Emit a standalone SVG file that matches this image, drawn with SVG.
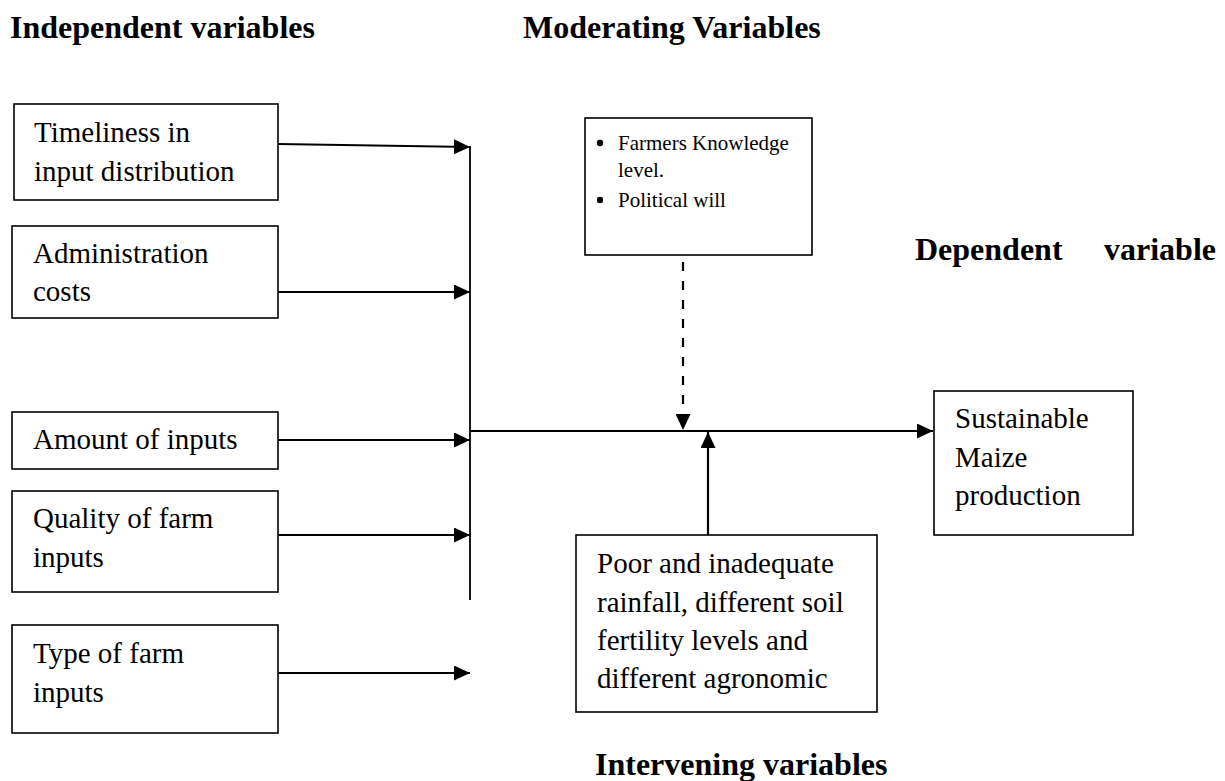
<svg xmlns="http://www.w3.org/2000/svg" width="1225" height="781" viewBox="0 0 1225 781">
<defs>
<marker id="ah" markerUnits="userSpaceOnUse" markerWidth="16" markerHeight="15" refX="16" refY="7.5" orient="auto" viewBox="0 0 16 15">
<path d="M0,0 L16,7.5 L0,15 z" fill="#000"/>
</marker>
<style>
.box{fill:#fff;stroke:#000;stroke-width:1.6}
.t{font-family:"Liberation Serif","Times New Roman",serif;font-size:29px;fill:#000}
.s{font-family:"Liberation Serif","Times New Roman",serif;font-size:21px;fill:#000}
.h{font-family:"Liberation Serif","Times New Roman",serif;font-size:32px;font-weight:bold;fill:#000}
.c{stroke:#000;stroke-width:2.2;fill:none}
.c2{stroke:#000;stroke-width:1.8;fill:none}
</style>
</defs>
<rect width="1225" height="781" fill="#fff"/>
<g id="headings">
<text class="h" x="10" y="38">Independent variables</text>
<text class="h" x="523" y="38">Moderating Variables</text>
<text class="h" x="915" y="260">Dependent</text>
<text class="h" x="1104" y="260">variable</text>
<text class="h" x="595" y="775">Intervening variables</text>
</g>
<g id="connectors">
<line class="c2" x1="470" y1="146" x2="470" y2="600"/>
<line class="c" x1="278" y1="144" x2="470" y2="147" marker-end="url(#ah)"/>
<line class="c" x1="278" y1="292" x2="470" y2="292" marker-end="url(#ah)"/>
<line class="c" x1="278" y1="440" x2="470" y2="440" marker-end="url(#ah)"/>
<line class="c" x1="278" y1="535" x2="470" y2="535" marker-end="url(#ah)"/>
<line class="c" x1="278" y1="673" x2="470" y2="673" marker-end="url(#ah)"/>
<line class="c" x1="470" y1="431" x2="933" y2="431" marker-end="url(#ah)"/>
<line class="c" x1="683" y1="262" x2="683" y2="430" stroke-dasharray="9,10" marker-end="url(#ah)"/>
<line class="c" x1="708" y1="535" x2="708" y2="432" marker-end="url(#ah)"/>
</g>
<g id="timeliness">
<rect class="box" x="14" y="104" width="264" height="96"/>
<text class="t" x="34" y="142">Timeliness in</text>
<text class="t" x="34" y="181">input distribution</text>
</g>
<g id="administration">
<rect class="box" x="12" y="226" width="266" height="92"/>
<text class="t" x="33" y="263">Administration</text>
<text class="t" x="33" y="301">costs</text>
</g>
<g id="amount">
<rect class="box" x="12" y="412" width="266" height="57"/>
<text class="t" x="33" y="449">Amount of inputs</text>
</g>
<g id="quality">
<rect class="box" x="12" y="491" width="266" height="101"/>
<text class="t" x="33" y="528">Quality of farm</text>
<text class="t" x="33" y="567">inputs</text>
</g>
<g id="type">
<rect class="box" x="12" y="625" width="266" height="108"/>
<text class="t" x="33" y="663">Type of farm</text>
<text class="t" x="33" y="702">inputs</text>
</g>
<g id="moderating">
<rect class="box" x="585" y="118" width="227" height="137"/>
<circle cx="600" cy="143" r="3.2" fill="#000"/>
<text class="s" x="618" y="150">Farmers Knowledge</text>
<text class="s" x="618" y="177">level.</text>
<circle cx="600" cy="200" r="3.2" fill="#000"/>
<text class="s" x="618" y="207">Political will</text>
</g>
<g id="dependent">
<rect class="box" x="934" y="391" width="199" height="144"/>
<text class="t" x="955" y="428">Sustainable</text>
<text class="t" x="955" y="467">Maize</text>
<text class="t" x="955" y="505">production</text>
</g>
<g id="intervening">
<rect class="box" x="576" y="535" width="301" height="177"/>
<text class="t" x="597" y="573">Poor and inadequate</text>
<text class="t" x="597" y="612">rainfall, different soil</text>
<text class="t" x="597" y="650">fertility levels and</text>
<text class="t" x="597" y="688">different agronomic</text>
</g>
</svg>
